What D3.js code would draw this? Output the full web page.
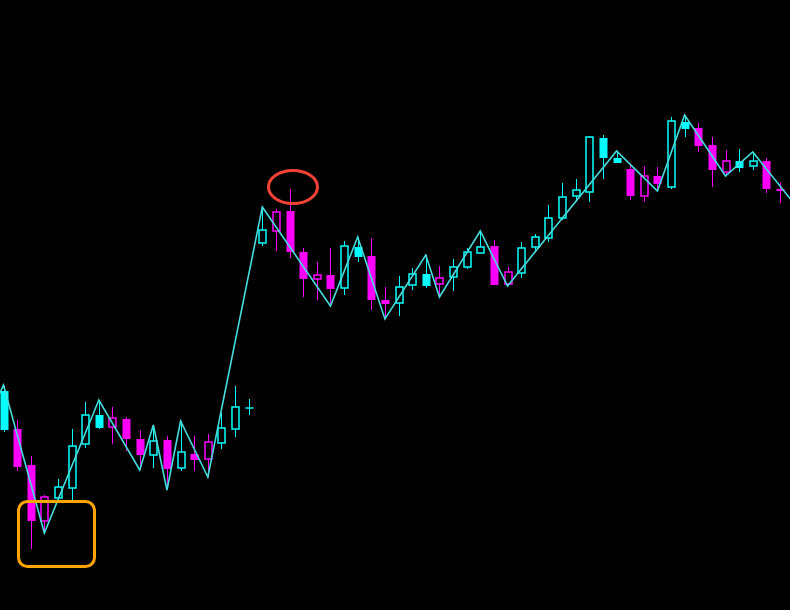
<!DOCTYPE html>
<html><head><meta charset="utf-8">
<script src="https://cdn.jsdelivr.net/npm/d3@7"></script>
<style>html,body{margin:0;padding:0;background:#000;overflow:hidden}</style>
</head><body>
<svg id="chart" width="790" height="610"></svg>
<script>
// Candle data (price points)
const openP  = [170,171,135,103,102,112,156,172,182,181,161,145,160,132,146,158,157,171,192,357,388,389,348,325,325,312,343,344,300,297,315,314,322,323,333,347,354,328,327,353,362,382,404,408,442,437,431,424,424,413,471,472,455,439,432,434,439,411];
const highP  = [214,180,144,105,121,171,198,200,193,183,170,175,164,179,164,166,187,214,201,393,391,411,352,338,352,359,363,362,313,324,332,345,334,341,352,369,360,333,358,366,395,417,421,464,465,449,436,434,433,483,485,477,463,450,451,448,442,418];
const lowP   = [168,129,51,67,100,100,152,171,156,149,130,132,110,129,129,123,151,163,185,354,349,342,303,300,294,305,338,290,281,284,310,312,303,309,331,347,315,314,322,348,358,380,398,398,421,437,400,398,409,411,463,448,413,424,428,430,407,397];
const closeP = [209,133,79,79,113,154,185,185,173,161,145,159,131,148,140,141,172,193,192,370,369,348,321,321,311,354,353,300,296,313,326,326,316,333,348,353,315,316,352,363,382,403,410,463,462,442,404,404,416,479,478,454,430,428,439,439,411,409];
const solid  = [1,1,1,0,0,0,0,1,0,1,1,0,1,0,1,0,0,0,0,0,0,1,1,0,1,0,1,1,1,0,0,1,0,0,0,0,1,0,0,0,0,0,0,0,1,1,1,0,1,0,1,1,1,0,1,0,1,1];
// Zigzag turning points: [bar index, price]
const zigIdx = [-1,0,3,7,10,11,12,13,15,19,24,26,28,31,32,35,37,45,48,50,53,55,58];
const zigVal = [185,215,67,200,130,175,110,179,123,393,294,363,281,345,303,369,314,449,409,485,424,448,397];
// Annotations in data coordinates
const ellipseAt = [21.25, 413];        // bar index, price
const boxFrom = [1.1, 98.5], boxTo = [6.68, 33.5];

const W = 790, H = 610;
const svg = d3.select("#chart");
svg.append("rect").attr("width", W).attr("height", H).attr("fill", "#000");

const x = d3.scaleLinear().domain([0, 57]).range([3.5, 780]);
const y = d3.scaleLinear().domain([0, 600]).range([600, 0]);

const UP = "#00ffff", DN = "#ff00ff";
const bars = openP.map((o, i) => ({i, o, h: highP[i], l: lowP[i], c: closeP[i], s: solid[i]}));
const g = svg.append("g");
const bw = 7;

bars.forEach(d => {
  const col = d.c >= d.o ? UP : DN;
  const cx = Math.round(x(d.i)) + 0.5;
  const top = y(Math.max(d.o, d.c)), bot = y(Math.min(d.o, d.c));
  // wicks
  g.append("line").attr("x1", cx).attr("x2", cx).attr("y1", y(d.h)).attr("y2", top)
    .attr("stroke", col).attr("stroke-width", 1);
  g.append("line").attr("x1", cx).attr("x2", cx).attr("y1", bot).attr("y2", y(d.l))
    .attr("stroke", col).attr("stroke-width", 1);
  if (bot - top < 1) {
    g.append("line").attr("x1", cx - bw/2 - 0.5).attr("x2", cx + bw/2 + 0.5).attr("y1", top).attr("y2", top)
      .attr("stroke", col).attr("stroke-width", 1.5);
  } else if (d.s) {
    g.append("rect").attr("x", cx - bw/2 - 0.5).attr("y", top).attr("width", bw + 1).attr("height", Math.max(1, bot - top))
      .attr("fill", col);
  } else {
    g.append("rect").attr("x", cx - bw/2).attr("y", top).attr("width", bw).attr("height", bot - top)
      .attr("fill", "none").attr("stroke", col).attr("stroke-width", 1.5);
  }
});

// zigzag line
const zz = zigIdx.map((k, j) => [k, zigVal[j]]);
svg.append("path").datum(zz)
  .attr("d", d3.line().x(d => x(d[0])).y(d => y(d[1])))
  .attr("fill", "none").attr("stroke", "#46dcdc").attr("stroke-width", 1.6);

// red ellipse annotation
svg.append("ellipse").attr("cx", x(ellipseAt[0])).attr("cy", y(ellipseAt[1]))
  .attr("rx", 24.5).attr("ry", 16.5)
  .attr("fill", "none").attr("stroke", "#f44336").attr("stroke-width", 3);

// orange rounded box annotation
svg.append("rect")
  .attr("x", x(boxFrom[0])).attr("y", y(boxFrom[1]))
  .attr("width", x(boxTo[0]) - x(boxFrom[0])).attr("height", y(boxTo[1]) - y(boxFrom[1]))
  .attr("rx", 9).attr("ry", 9)
  .attr("fill", "none").attr("stroke", "#ffa500").attr("stroke-width", 3);
</script>
</body></html>
